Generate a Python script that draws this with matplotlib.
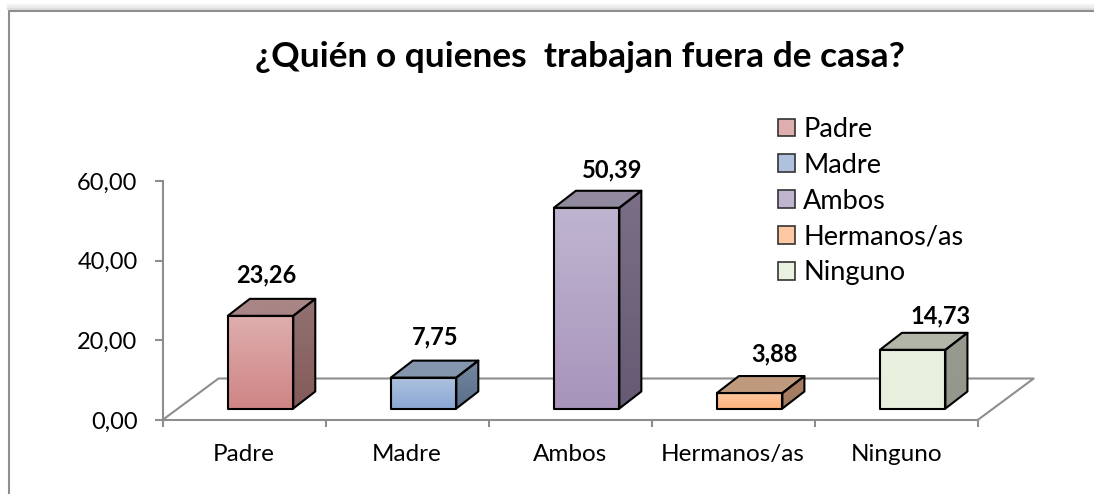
import numpy as np
import matplotlib
matplotlib.use('Agg')
import matplotlib.pyplot as plt
from matplotlib.colors import to_rgb
from matplotlib.lines import Line2D
from matplotlib.patches import Patch, Polygon

categories = ['Padre', 'Madre', 'Ambos', 'Hermanos/as', 'Ninguno']
values = [23.26, 7.75, 50.39, 3.88, 14.73]
y_ticks = [0, 20, 40, 60]

front_top = ['#dfaeae', '#aec2de', '#bfb5cf', '#fdc9a2', '#ebf1e0']
front_bottom = ['#cf8585', '#8ba8d4', '#a894bc', '#fcb37f', '#e8efdc']
top_face = ['#a98585', '#8496ae', '#928a9e', '#c09a7d', '#b1b6a8']
side_top = ['#937272', '#7688a0', '#7a6f86', '#ab8064', '#979b8f']
side_bottom = ['#845a5a', '#5a6e8a', '#665a74', '#a07a5c', '#94988c']
label_dx = [6, 12, 26, 25, 28]  # px right of the bar centre
label_dy = [24, 24, 21, 22, 17]  # px above the back edge

W, H = 1094, 494
GRAY = '#8e8e8e'
plt.rcParams['font.family'] = ['Lato', 'DejaVu Sans']

fig = plt.figure(figsize=(W / 100, H / 100), dpi=100)
ax = fig.add_axes([162.5 / W, (H - 420) / H, (977.7 - 162.5) / W, (420 - 181) / H])
ax.set_xlim(0, 5)
ax.set_ylim(0, 60)

px_x = 5 / (977.7 - 162.5)
px_y = 60 / (420 - 181)


def shade(verts, c1, c2):
    verts = np.array(verts)
    x0, x1 = verts[:, 0].min(), verts[:, 0].max()
    y0, y1 = verts[:, 1].min(), verts[:, 1].max()
    grad = np.linspace(0, 1, 64)[:, None, None]
    img = np.array(to_rgb(c1)) * (1 - grad) + np.array(to_rgb(c2)) * grad
    im = ax.imshow(img, extent=[x0, x1, y0, y1], aspect='auto', zorder=3)
    poly = Polygon(verts, closed=True, fc='none', ec='black', lw=1.5, zorder=4,
                   joinstyle='round', clip_on=False)
    ax.add_patch(poly)
    im.set_clip_path(poly)


# floor of the 3d plot
dx, dy = 56 * px_x, 41.5 * px_y
ax.plot([0, dx, 5 + dx, 5], [0, dy, dy, 0], color=GRAY, lw=1.5, zorder=1, clip_on=False)

bar_w = 65.5 * px_x
depth_x, depth_y = 22 * px_x, 17 * px_y
base = 11.5 * px_y
for i, v in enumerate(values):
    xc = i + 0.5 + 16.5 * px_x
    l, r = xc - bar_w / 2, xc + bar_w / 2
    t = base + v
    shade([(l, t), (r, t), (r + depth_x, t + depth_y), (l + depth_x, t + depth_y)], top_face[i], top_face[i])
    shade([(r, base), (r + depth_x, base + depth_y), (r + depth_x, t + depth_y), (r, t)], side_top[i], side_bottom[i])
    shade([(l, base), (r, base), (r, t), (l, t)], front_top[i], front_bottom[i])
    ax.text(xc + label_dx[i] * px_x, t + depth_y + label_dy[i] * px_y,
            f'{v:.2f}'.replace('.', ','), ha='center', va='center',
            fontsize=17, fontweight='bold', color='black', zorder=5)

ax.set_xlim(0, 5)
ax.set_ylim(0, 60)
for s in ['top', 'right']:
    ax.spines[s].set_visible(False)
for s in ['left', 'bottom']:
    ax.spines[s].set_color(GRAY)
    ax.spines[s].set_linewidth(1.5)
ax.set_yticks(y_ticks, [f'{t:.2f}'.replace('.', ',') for t in y_ticks])
ax.set_xticks(range(6), [''] * 6)
ax.tick_params(axis='y', length=6, width=1.5, color=GRAY, labelsize=17, pad=12)
ax.tick_params(axis='x', length=5, width=1.5, color=GRAY)
for i, c in enumerate(categories):
    ax.text(i + 0.5, -34 * px_y, c, ha='center', va='center', fontsize=17.5, clip_on=False)

handles = [Patch(fc=front_top[i], ec='#333333', lw=1.2) for i in range(5)]
ax.legend(handles, categories, loc='upper left', bbox_to_anchor=(778 / W, (H - 117) / H),
          bbox_transform=fig.transFigure, frameon=False, fontsize=19.5, handlelength=0.63, handleheight=0.63,
          handletextpad=0.3, labelspacing=0.4, borderpad=0, borderaxespad=0)

fig.text(580 / W, (H - 57) / H, '¿Quién o quienes  trabajan fuera de casa?', ha='center', va='center',
         fontsize=25.4, fontweight='bold', color='black')

# chart border with its soft shadow
for y_off, col in [(6, '#f4f4f4'), (4, '#ececec'), (2, '#dedede')]:
    fig.add_artist(Line2D([8 / W, 1], [(H - 11 + y_off) / H] * 2, color=col, lw=1.5))
fig.add_artist(Line2D([8.5 / W, 8.5 / W, 1], [0, (H - 11) / H, (H - 11) / H], color=GRAY, lw=1.5))

fig.savefig('out.png', dpi=100, facecolor='white')
